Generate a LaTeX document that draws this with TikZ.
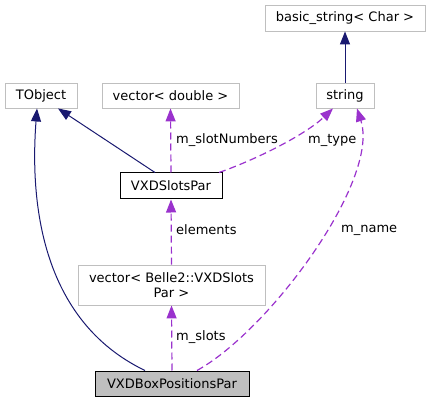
\documentclass[tikz,border=0pt]{standalone}
\usepackage{fontspec}
\setmainfont{DejaVu Sans}
\usetikzlibrary{arrows.meta}
\definecolor{edgeblue}{HTML}{191970}
\definecolor{edgepurple}{HTML}{9A32CD}
\definecolor{boxgray}{HTML}{BFBFBF}
\begin{document}
\begin{tikzpicture}[x=1pt,y=-1pt,
  font=\fontsize{13}{15}\selectfont,
  cls/.style={draw=boxgray, fill=white, line width=0.9pt, inner sep=0pt, align=center},
  maincls/.style={draw=black, fill=boxgray, line width=1pt, inner sep=0pt},
  refcls/.style={draw=black, fill=white, line width=1pt, inner sep=0pt},
  inherit/.style={draw=edgeblue, line width=1pt, -{Triangle[length=13pt,width=10pt]}},
  usage/.style={draw=edgepurple, line width=1.2pt, dash pattern=on 7pt off 4pt,
    -{Triangle[length=13pt,width=10pt,fill=edgepurple]}},
  lbl/.style={anchor=west, inner sep=0pt, text=black}
]
\useasboundingbox (0,0) rectangle (431,403);

\node[cls, minimum width=160pt, minimum height=26pt] (bs) at (345,18) {basic\_string< Char >};
\node[cls, minimum width=72pt, minimum height=25pt] (tobj) at (41,95.5) {TObject};
\node[cls, minimum width=137pt, minimum height=25pt] (vd) at (170.5,95.5) {vector< double >};
\node[cls, minimum width=58pt, minimum height=25pt] (str) at (345,95.5) {string};
\node[refcls, minimum width=102pt, minimum height=26pt] (slots) at (171,186) {VXDSlotsPar};
\node[cls, minimum width=187pt, minimum height=40pt] (vb) at (171.5,285) {vector< Belle2::VXDSlots\\Par >};
\node[maincls, minimum width=154pt, minimum height=25pt] (main) at (172,383.5) {VXDBoxPositionsPar};

% inheritance
\draw[inherit] (str.north) -- (bs.south);
\draw[inherit] ([xshift=-16pt]slots.north) -- ([xshift=17pt]tobj.south);
\draw[inherit] ([xshift=-27pt]main.north) .. controls (40,320) and (30,200) .. ([xshift=-4pt]tobj.south);

% usage
\draw[usage] (slots.north) -- (vd.south);
\draw[usage] ([xshift=48pt]slots.north) .. controls (255,160) and (305,135) .. ([xshift=-12pt]str.south);
\draw[usage] ([xshift=25pt]main.north) .. controls (270,330) and (380,180) .. ([xshift=12pt]str.south);
\draw[usage] (vb.north) -- (slots.south);
\draw[usage] (main.north) -- (vb.south);

% labels
\node[lbl] (l1) at (176,140) {m\_slotNumbers};
\node[lbl] (l2) at (308,140) {m\_type};
\node[lbl] (l3) at (341,230) {m\_name};
\node[lbl] (l4) at (176,230) {elements};
\node[lbl] (l5) at (176,337) {m\_slots};
\end{tikzpicture}
\end{document}
